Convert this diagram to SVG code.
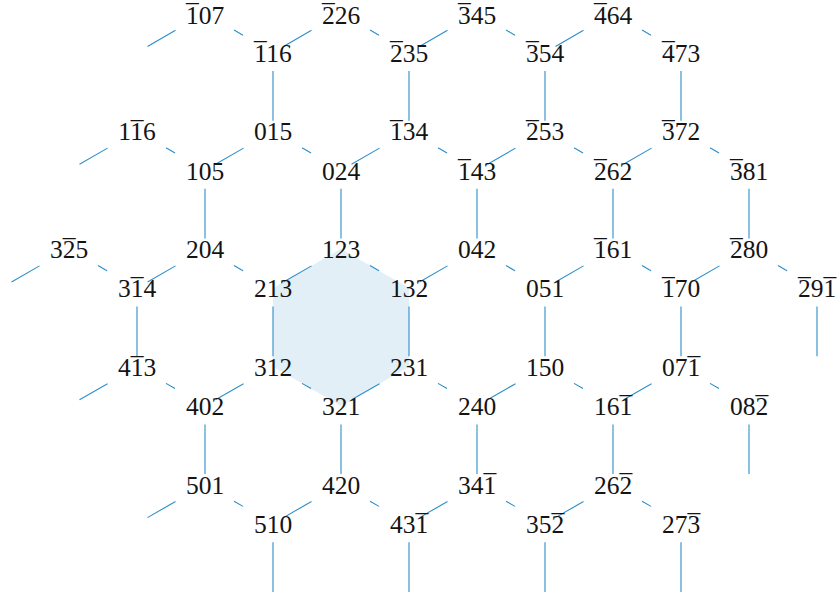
<svg xmlns="http://www.w3.org/2000/svg" width="839" height="597" viewBox="0 0 839 597">
<style>
.e line{stroke:#2b8dc8;stroke-width:1.1;fill:none}
.t{font-family:"Liberation Serif","DejaVu Serif",serif;font-size:25.5px;text-anchor:middle;fill:#141414}
</style>
<rect width="839" height="597" fill="#ffffff"/>
<polygon id="highlight" points="341,248.86 409,288.12 409,366.64 341,405.9 273,366.64 273,288.12" fill="#e3eff7"/>
<g id="edges" class="e">
<line x1="234" y1="30.04" x2="243" y2="35.24"/>
<line x1="370" y1="30.04" x2="379" y2="35.24"/>
<line x1="506" y1="30.04" x2="515" y2="35.24"/>
<line x1="642" y1="30.04" x2="651" y2="35.24"/>
<line x1="147.5" y1="46.5" x2="175.5" y2="30.33"/>
<line x1="283.5" y1="46.5" x2="311.5" y2="30.33"/>
<line x1="419.5" y1="46.5" x2="447.5" y2="30.33"/>
<line x1="555.5" y1="46.5" x2="583.5" y2="30.33"/>
<line x1="273" y1="71.06" x2="273" y2="120.78"/>
<line x1="409" y1="71.06" x2="409" y2="120.78"/>
<line x1="545" y1="71.06" x2="545" y2="120.78"/>
<line x1="681" y1="71.06" x2="681" y2="120.78"/>
<line x1="166" y1="147.82" x2="175" y2="153.02"/>
<line x1="302" y1="147.82" x2="311" y2="153.02"/>
<line x1="438" y1="147.82" x2="447" y2="153.02"/>
<line x1="574" y1="147.82" x2="583" y2="153.02"/>
<line x1="710" y1="147.82" x2="719" y2="153.02"/>
<line x1="79.5" y1="164.28" x2="107.5" y2="148.11"/>
<line x1="215.5" y1="164.28" x2="243.5" y2="148.11"/>
<line x1="351.5" y1="164.28" x2="379.5" y2="148.11"/>
<line x1="487.5" y1="164.28" x2="515.5" y2="148.11"/>
<line x1="623.5" y1="164.28" x2="651.5" y2="148.11"/>
<line x1="205" y1="188.84" x2="205" y2="238.56"/>
<line x1="341" y1="188.84" x2="341" y2="238.56"/>
<line x1="477" y1="188.84" x2="477" y2="238.56"/>
<line x1="613" y1="188.84" x2="613" y2="238.56"/>
<line x1="749" y1="188.84" x2="749" y2="238.56"/>
<line x1="98" y1="265.6" x2="107" y2="270.8"/>
<line x1="234" y1="265.6" x2="243" y2="270.8"/>
<line x1="370" y1="265.6" x2="379" y2="270.8"/>
<line x1="506" y1="265.6" x2="515" y2="270.8"/>
<line x1="642" y1="265.6" x2="651" y2="270.8"/>
<line x1="778" y1="265.6" x2="787" y2="270.8"/>
<line x1="11.5" y1="282.06" x2="39.5" y2="265.89"/>
<line x1="147.5" y1="282.06" x2="175.5" y2="265.89"/>
<line x1="283.5" y1="282.06" x2="311.5" y2="265.89"/>
<line x1="419.5" y1="282.06" x2="447.5" y2="265.89"/>
<line x1="555.5" y1="282.06" x2="583.5" y2="265.89"/>
<line x1="691.5" y1="282.06" x2="719.5" y2="265.89"/>
<line x1="137" y1="306.62" x2="137" y2="356.34"/>
<line x1="273" y1="306.62" x2="273" y2="356.34"/>
<line x1="409" y1="306.62" x2="409" y2="356.34"/>
<line x1="545" y1="306.62" x2="545" y2="356.34"/>
<line x1="681" y1="306.62" x2="681" y2="356.34"/>
<line x1="817" y1="306.62" x2="817" y2="356.34"/>
<line x1="166" y1="383.38" x2="175" y2="388.58"/>
<line x1="302" y1="383.38" x2="311" y2="388.58"/>
<line x1="438" y1="383.38" x2="447" y2="388.58"/>
<line x1="574" y1="383.38" x2="583" y2="388.58"/>
<line x1="710" y1="383.38" x2="719" y2="388.58"/>
<line x1="79.5" y1="399.84" x2="107.5" y2="383.67"/>
<line x1="215.5" y1="399.84" x2="243.5" y2="383.67"/>
<line x1="351.5" y1="399.84" x2="379.5" y2="383.67"/>
<line x1="487.5" y1="399.84" x2="515.5" y2="383.67"/>
<line x1="623.5" y1="399.84" x2="651.5" y2="383.67"/>
<line x1="205" y1="424.4" x2="205" y2="474.12"/>
<line x1="341" y1="424.4" x2="341" y2="474.12"/>
<line x1="477" y1="424.4" x2="477" y2="474.12"/>
<line x1="613" y1="424.4" x2="613" y2="474.12"/>
<line x1="749" y1="424.4" x2="749" y2="474.12"/>
<line x1="234" y1="501.16" x2="243" y2="506.36"/>
<line x1="370" y1="501.16" x2="379" y2="506.36"/>
<line x1="506" y1="501.16" x2="515" y2="506.36"/>
<line x1="642" y1="501.16" x2="651" y2="506.36"/>
<line x1="147.5" y1="517.62" x2="175.5" y2="501.45"/>
<line x1="283.5" y1="517.62" x2="311.5" y2="501.45"/>
<line x1="419.5" y1="517.62" x2="447.5" y2="501.45"/>
<line x1="555.5" y1="517.62" x2="583.5" y2="501.45"/>
<line x1="273" y1="542.18" x2="273" y2="591.9"/>
<line x1="409" y1="542.18" x2="409" y2="591.9"/>
<line x1="545" y1="542.18" x2="545" y2="591.9"/>
<line x1="681" y1="542.18" x2="681" y2="591.9"/>
</g>
<g id="n-107"><text class="t" x="205" y="23.8">107<tspan x="192.25" y="22.4">¯</tspan></text></g>
<g id="n-226"><text class="t" x="341" y="23.8">226<tspan x="328.25" y="22.4">¯</tspan></text></g>
<g id="n-345"><text class="t" x="477" y="23.8">345<tspan x="464.25" y="22.4">¯</tspan></text></g>
<g id="n-464"><text class="t" x="613" y="23.8">464<tspan x="600.25" y="22.4">¯</tspan></text></g>
<g id="n-116"><text class="t" x="273" y="61.86">116<tspan x="260.25" y="60.46">¯</tspan></text></g>
<g id="n-235"><text class="t" x="409" y="61.86">235<tspan x="396.25" y="60.46">¯</tspan></text></g>
<g id="n-354"><text class="t" x="545" y="61.86">354<tspan x="532.25" y="60.46">¯</tspan></text></g>
<g id="n-473"><text class="t" x="681" y="61.86">473<tspan x="668.25" y="60.46">¯</tspan></text></g>
<g id="n-1b16"><text class="t" x="137" y="140.38">116<tspan x="137" y="138.98">¯</tspan></text></g>
<g id="n-015"><text class="t" x="273" y="140.38">015</text></g>
<g id="n-134"><text class="t" x="409" y="140.38">134<tspan x="396.25" y="138.98">¯</tspan></text></g>
<g id="n-253"><text class="t" x="545" y="140.38">253<tspan x="532.25" y="138.98">¯</tspan></text></g>
<g id="n-372"><text class="t" x="681" y="140.38">372<tspan x="668.25" y="138.98">¯</tspan></text></g>
<g id="n-105"><text class="t" x="205" y="179.64">105</text></g>
<g id="n-024"><text class="t" x="341" y="179.64">024</text></g>
<g id="n-143"><text class="t" x="477" y="179.64">143<tspan x="464.25" y="178.24">¯</tspan></text></g>
<g id="n-262"><text class="t" x="613" y="179.64">262<tspan x="600.25" y="178.24">¯</tspan></text></g>
<g id="n-381"><text class="t" x="749" y="179.64">381<tspan x="736.25" y="178.24">¯</tspan></text></g>
<g id="n-325"><text class="t" x="69" y="258.16">325<tspan x="69" y="256.76">¯</tspan></text></g>
<g id="n-204"><text class="t" x="205" y="258.16">204</text></g>
<g id="n-123"><text class="t" x="341" y="258.16">123</text></g>
<g id="n-042"><text class="t" x="477" y="258.16">042</text></g>
<g id="n-161"><text class="t" x="613" y="258.16">161<tspan x="600.25" y="256.76">¯</tspan></text></g>
<g id="n-280"><text class="t" x="749" y="258.16">280<tspan x="736.25" y="256.76">¯</tspan></text></g>
<g id="n-314"><text class="t" x="137" y="297.42">314<tspan x="137" y="296.02">¯</tspan></text></g>
<g id="n-213"><text class="t" x="273" y="297.42">213</text></g>
<g id="n-132"><text class="t" x="409" y="297.42">132</text></g>
<g id="n-051"><text class="t" x="545" y="297.42">051</text></g>
<g id="n-170"><text class="t" x="681" y="297.42">170<tspan x="668.25" y="296.02">¯</tspan></text></g>
<g id="n-291"><text class="t" x="817" y="297.42">291<tspan x="804.25" y="296.02">¯</tspan><tspan x="829.75" y="296.02">¯</tspan></text></g>
<g id="n-413"><text class="t" x="137" y="375.94">413<tspan x="137" y="374.54">¯</tspan></text></g>
<g id="n-312"><text class="t" x="273" y="375.94">312</text></g>
<g id="n-231"><text class="t" x="409" y="375.94">231</text></g>
<g id="n-150"><text class="t" x="545" y="375.94">150</text></g>
<g id="n-071"><text class="t" x="681" y="375.94">071<tspan x="693.75" y="374.54">¯</tspan></text></g>
<g id="n-402"><text class="t" x="205" y="415.2">402</text></g>
<g id="n-321"><text class="t" x="341" y="415.2">321</text></g>
<g id="n-240"><text class="t" x="477" y="415.2">240</text></g>
<g id="n-16b1"><text class="t" x="613" y="415.2">161<tspan x="625.75" y="413.8">¯</tspan></text></g>
<g id="n-082"><text class="t" x="749" y="415.2">082<tspan x="761.75" y="413.8">¯</tspan></text></g>
<g id="n-501"><text class="t" x="205" y="493.72">501</text></g>
<g id="n-420"><text class="t" x="341" y="493.72">420</text></g>
<g id="n-341"><text class="t" x="477" y="493.72">341<tspan x="489.75" y="492.32">¯</tspan></text></g>
<g id="n-262b"><text class="t" x="613" y="493.72">262<tspan x="625.75" y="492.32">¯</tspan></text></g>
<g id="n-510"><text class="t" x="273" y="532.98">510</text></g>
<g id="n-431"><text class="t" x="409" y="532.98">431<tspan x="421.75" y="531.58">¯</tspan></text></g>
<g id="n-352"><text class="t" x="545" y="532.98">352<tspan x="557.75" y="531.58">¯</tspan></text></g>
<g id="n-273"><text class="t" x="681" y="532.98">273<tspan x="693.75" y="531.58">¯</tspan></text></g>
</svg>
